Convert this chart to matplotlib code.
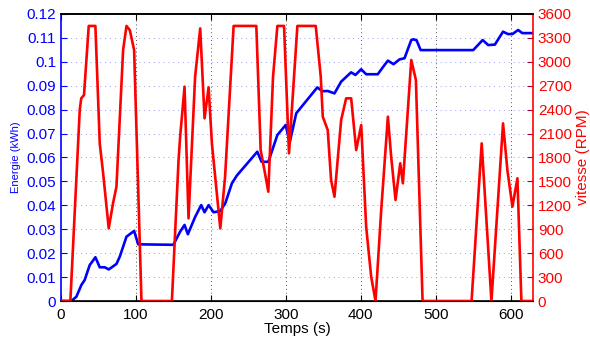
import matplotlib
matplotlib.use("Agg")

import matplotlib.pyplot as plt

# energy curve (kWh) vs time (s)
t_energy = [0, 13.8, 20.5, 27.2, 31.6, 38.3, 45.9, 51.7, 58.4, 63.7, 74, 78.4, 87.4,
            97.6, 103, 150, 159, 164.9, 169.3, 179.1, 187.1, 191.6, 197, 203.6, 212.5,
            219.2, 228.1, 234.8, 262, 267.7, 276.7, 288.8, 299.9, 305.2, 314, 342.1,
            348.8, 356, 365, 373.9, 387.2, 393, 400.6, 407.3, 422.8, 429.5, 436.3,
            443.8, 451.8, 458.5, 467.5, 470.5, 474.6, 480, 550.2, 562.8, 570.2, 579.1,
            590, 596.5, 602.5, 610.2, 615.6, 630]
energy = [0, 0, 0.0018, 0.0067, 0.0088, 0.015, 0.0183, 0.0141, 0.0141, 0.0132, 0.0155,
          0.0185, 0.0269, 0.0293, 0.0237, 0.0235, 0.029, 0.0318, 0.0279, 0.0352, 0.0401,
          0.0371, 0.0401, 0.0371, 0.0376, 0.0408, 0.0492, 0.0525, 0.0624, 0.0582, 0.0582,
          0.0694, 0.0736, 0.0662, 0.0785, 0.0893, 0.0877, 0.0878, 0.0868, 0.0917, 0.0956,
          0.0945, 0.0969, 0.0948, 0.0948, 0.0977, 0.1005, 0.099, 0.101, 0.1015, 0.1091,
          0.1094, 0.109, 0.1049, 0.1049, 0.1091, 0.107, 0.1072, 0.1126, 0.1116, 0.1116,
          0.1133, 0.112, 0.112]

# motor speed (RPM) vs time (s)
t_speed = [0, 12.5, 25, 27, 30.7, 37, 45.9, 51.7, 56, 63.7, 69.5, 74, 82.9, 87.4, 91.8,
           97.6, 107.4, 148, 156.9, 159, 164.9, 170.2, 179, 185.8, 191.6, 197, 201.4,
           212.6, 219, 230.4, 260.7, 266.5, 272.3, 276.7, 283, 288.8, 297.7, 304.3,
           315.5, 340, 346.7, 349.4, 356, 360.5, 365, 373.9, 380.6, 387.3, 394, 400.7,
           407.3, 414, 419.8, 427.4, 436.3, 440.7, 446.5, 452.8, 456.3, 467.5, 473.7,
           482.6, 548, 561.5, 574.5, 590, 595.8, 602.5, 609.2, 614.5, 630]
speed = [0, 0, 2395, 2542, 2583, 3450, 3450, 1977, 1622, 911, 1229, 1433, 3148, 3450,
         3398, 3148, 0, 0, 1768, 2060, 2688, 1037, 2813, 3419, 2291, 2680, 1977, 911,
         1559, 3450, 3450, 1893, 1601, 1371, 2813, 3450, 3450, 1852, 3450, 3450, 2813,
         2312, 2144, 1517, 1308, 2270, 2542, 2542, 1893, 2207, 932, 305, 0, 1141, 2312,
         1810, 1267, 1727, 1476, 3023, 2771, 0, 0, 1977, 0, 2228, 1643, 1183, 1539, 0, 0]

x_ticks = [0, 100, 200, 300, 400, 500, 600]
energy_ticks = [0, 0.01, 0.02, 0.03, 0.04, 0.05, 0.06, 0.07, 0.08, 0.09, 0.1, 0.11, 0.12]
energy_labels = ["0", "0.01", "0.02", "0.03", "0.04", "0.05", "0.06", "0.07", "0.08",
                 "0.09", "0.1", "0.11", "0.12"]
speed_ticks = list(range(0, 3601, 300))

plt.rcParams["font.family"] = ["Liberation Sans", "DejaVu Sans"]

fig = plt.figure(figsize=(5.9, 3.45), dpi=100)
ax = fig.add_axes([0.1034, 0.1275, 0.8, 0.832])
ax2 = ax.twinx()

ax.plot(t_energy, energy, color="#0000ff", lw=1.9)
ax2.plot(t_speed, speed, color="#ff0000", lw=1.9)

ax.set_xlim(0, 630)
ax.set_ylim(0, 0.12)
ax2.set_ylim(0, 3600)

ax.set_xticks(x_ticks)
ax.set_yticks(energy_ticks)
ax.set_yticklabels(energy_labels)
ax2.set_yticks(speed_ticks)

# grid lines: dark dotted verticals, light blue dotted horizontals
for x in x_ticks[1:]:
    ax.axvline(x, color="#555555", lw=0.7, ls=(0, (1, 3)), zorder=0)
for y in energy_ticks[1:-1]:
    ax.axhline(y, color="#9999ff", lw=0.7, ls=(0, (1, 4)), zorder=0)

ax.tick_params(axis="x", direction="in", top=True, length=4, labelsize=11, pad=5)
ax.tick_params(axis="y", direction="in", length=4, colors="#0000ff", labelsize=11)
ax2.tick_params(axis="y", direction="in", length=4, color="#990033",
                labelcolor="#ff0000", labelsize=11)

ax.spines["left"].set_color("#0000ff")
ax.spines["right"].set_visible(False)
ax2.spines["left"].set_visible(False)
ax2.spines["right"].set_color("#ff0000")
for s in ("left", "bottom", "top"):
    ax.spines[s].set_linewidth(1.2)
ax2.spines["right"].set_linewidth(1.2)
ax2.spines["top"].set_linewidth(1.2)

ax.set_xlabel("Temps (s)", fontsize=11, labelpad=0)
ax.set_ylabel("Energie (kWh)", fontsize=8, color="#0000ff", labelpad=4)
ax2.set_ylabel("vitesse (RPM)", fontsize=11, color="#ff0000", labelpad=3)

fig.savefig("out.png", dpi=100)
